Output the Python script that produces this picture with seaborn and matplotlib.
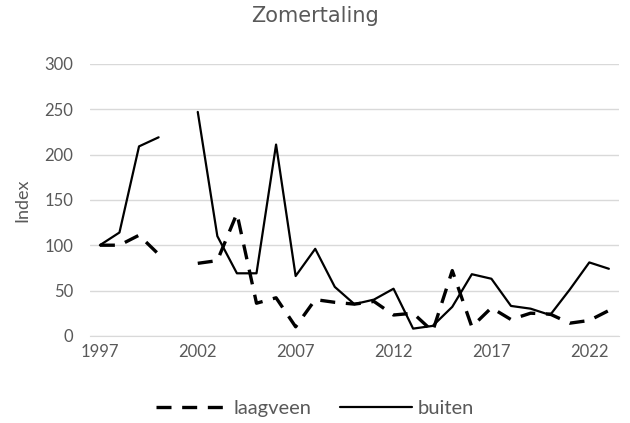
import pandas as pd
import numpy as np
import matplotlib
matplotlib.use('Agg')
import matplotlib.pyplot as plt
import seaborn as sns
from matplotlib.lines import Line2D

# Data (index, 1997 = 100); 2001 ontbreekt
jaren = list(range(1997, 2024))
laagveen = [100, 100, 111, 90, np.nan, 80, 83, 135, 36, 42, 10, 40, 37, 35, 38,
            23, 25, 5, 72, 10, 31, 18, 25, 24, 14, 17, 28]
buiten = [100, 114, 209, 219, np.nan, 247, 110, 69, 69, 211, 66, 96, 54, 35, 40,
          52, 8, 11, 32, 68, 63, 33, 30, 23, 51, 81, 74]
tick_jaren = [1997, 2002, 2007, 2012, 2017, 2022]

# Lange tabel, met segment-id zodat de lijn bij ontbrekende jaren onderbroken wordt
rijen = []
for naam, waarden in [('laagveen', laagveen), ('buiten', buiten)]:
    seg = 0
    for j, v in zip(jaren, waarden):
        if np.isnan(v):
            seg += 1
            continue
        rijen.append({'jaar': j, 'index': v, 'serie': naam, 'seg': f'{naam}_{seg}'})
df = pd.DataFrame(rijen)

sns.set_style('white')
plt.rcParams['font.family'] = ['Lato', 'DejaVu Sans']

fig = plt.figure(figsize=(6.3, 4.23), dpi=100)
ax = fig.add_axes([0.143, 0.206, 0.839, 0.643])

grijs = '#595959'
streep = (4.5, 3.2)

sns.lineplot(data=df[df.serie == 'laagveen'], x='jaar', y='index', units='seg',
             estimator=None, color='black', linewidth=2.4, ax=ax, legend=False)
for l in ax.lines:
    l.set_dashes(streep)
    l.set_dash_capstyle('butt')
sns.lineplot(data=df[df.serie == 'buiten'], x='jaar', y='index', units='seg',
             estimator=None, color='black', linewidth=1.6, ax=ax, legend=False)

ax.set_xlim(1996.5, 2023.5)
ax.set_ylim(0, 300)
ax.set_yticks(range(0, 301, 50))
ax.set_xticks(tick_jaren)
ax.set_xticks(np.arange(1996.5, 2024, 1), minor=True)
ax.tick_params(axis='x', which='major', length=0, pad=6, labelsize=12, labelcolor=grijs)
ax.tick_params(axis='x', which='minor', length=5, color='#d9d9d9', width=1, direction='out')
ax.tick_params(axis='y', length=0, pad=12, labelsize=12, labelcolor=grijs)
ax.grid(axis='y', color='#d9d9d9', linewidth=1)
ax.set_axisbelow(True)
for s in ['top', 'right', 'left']:
    ax.spines[s].set_visible(False)
ax.spines['bottom'].set_color('#d9d9d9')
ax.set_xlabel('')
ax.set_ylabel('Index', fontsize=13, color=grijs, labelpad=10)

fig.suptitle('Zomertaling', x=0.5, y=0.985, fontsize=15, color=grijs,
             family='DejaVu Sans')

handles = [Line2D([], [], color='black', linewidth=2.4, dashes=streep,
                  dash_capstyle='butt'),
           Line2D([], [], color='black', linewidth=1.6)]
fig.legend(handles, ['laagveen', 'buiten'], loc='center', bbox_to_anchor=(0.5, 0.035),
           ncol=2, frameon=False, fontsize=14.5, handlelength=3.6, handletextpad=0.25,
           columnspacing=1.4, labelcolor=grijs)

fig.savefig('out.png', dpi=100)
